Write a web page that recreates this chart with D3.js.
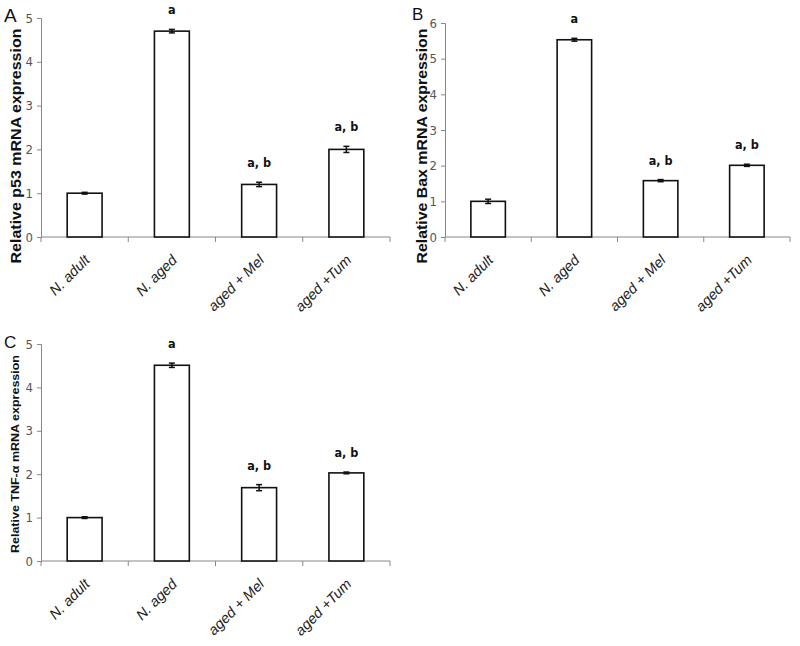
<!DOCTYPE html>
<html>
<head>
<meta charset="utf-8">
<script src="https://cdn.jsdelivr.net/npm/d3@7"></script>
<style>
  body { margin: 0; background: #fff; }
  svg { display: block; }
  .tick-lbl { font-family: "Liberation Sans Narrow", "Arial Narrow", "DejaVu Sans Condensed", sans-serif; font-size: 13px; fill: #555; }
  .cat-lbl { font-family: "Liberation Sans", Arial, sans-serif; font-style: italic; font-size: 14.5px; fill: #222; }
  .sig { font-family: "DejaVu Sans Condensed", "Liberation Sans Narrow", sans-serif; font-weight: bold; font-size: 12.5px; fill: #111; }
  .ylab { font-family: "Liberation Sans", Arial, sans-serif; font-weight: bold; fill: #111; }
  .panel { font-family: "Liberation Sans", Arial, sans-serif; fill: #111; }
</style>
</head>
<body>
<svg id="chart" width="800" height="646"></svg>
<script>
// groups on the x axis
const categories = ["N. adult", "N. aged", "aged + Mel", "aged +Tum"]
const sigLabels = ["", "a", "a, b", "a, b"]

// panel A: p53
const p53Values = [1.0, 4.70, 1.20, 2.0]
const p53Errors = [0.02, 0.04, 0.05, 0.07]
const p53Ticks = [0, 1, 2, 3, 4, 5]

// panel B: Bax
const baxValues = [1.0, 5.53, 1.58, 2.01]
const baxErrors = [0.06, 0.04, 0.03, 0.03]
const baxTicks = [0, 1, 2, 3, 4, 5, 6]

// panel C: TNF-a
const tnfValues = [1.0, 4.51, 1.69, 2.03]
const tnfErrors = [0.02, 0.05, 0.07, 0.02]
const tnfTicks = [0, 1, 2, 3, 4, 5]

const svg = d3.select("#chart")

const panels = [
  { letter: "A", lx: 4, ly: 22, lsize: 19, values: p53Values, errors: p53Errors, ticks: p53Ticks,
    x0: 41, x1: 390, yTop: 18, yBot: 237,
    ylabel: "Relative p53 mRNA  expression", yx: 16, yy: 146, ysize: 14.5, ylen: 235 },
  { letter: "B", lx: 412, ly: 20, lsize: 17, values: baxValues, errors: baxErrors, ticks: baxTicks,
    x0: 445, x1: 790, yTop: 23, yBot: 237,
    ylabel: "Relative Bax mRNA expression", yx: 422, yy: 146, ysize: 14.5, ylen: 235 },
  { letter: "C", lx: 4, ly: 348, lsize: 17, values: tnfValues, errors: tnfErrors, ticks: tnfTicks,
    x0: 41, x1: 390, yTop: 344, yBot: 561,
    ylabel: "Relative TNF-\u03b1 mRNA  expression", yx: 15, yy: 454, ysize: 11.5, ylen: 198 }
]

const drawPanel = p => {
  const g = svg.append("g")
  const yMax = d3.max(p.ticks)

  const x = d3.scaleBand().domain(categories).range([p.x0, p.x1]).padding(0)
  const y = d3.scaleLinear().domain([0, yMax]).range([p.yBot, p.yTop])
  const barW = x.bandwidth() * 0.4

  // y axis
  const yAxis = g.append("g")
    .attr("transform", `translate(${p.x0},0)`)
    .call(d3.axisLeft(y).tickValues(p.ticks).tickSize(4).tickPadding(4).tickFormat(d3.format("d")))
  yAxis.select(".domain").attr("stroke", "#888")
  yAxis.selectAll(".tick line").attr("stroke", "#888")
  yAxis.selectAll(".tick text").attr("class", "tick-lbl").attr("font-family", null).attr("font-size", null).attr("fill", null)

  // x axis: ticks sit on band edges
  const edges = categories.map(c => x(c)).concat([p.x1])
  g.append("line")
    .attr("x1", p.x0).attr("x2", p.x1)
    .attr("y1", p.yBot).attr("y2", p.yBot)
    .attr("stroke", "#888")
  g.selectAll(".xtick").data(edges).enter().append("line")
    .attr("class", "xtick")
    .attr("x1", d => d).attr("x2", d => d)
    .attr("y1", p.yBot).attr("y2", p.yBot + 5)
    .attr("stroke", "#888")

  // bars
  g.selectAll(".bar").data(p.values).enter().append("rect")
    .attr("class", "bar")
    .attr("x", (d, i) => x(categories[i]) + x.bandwidth() / 2 - barW / 2)
    .attr("y", d => y(d))
    .attr("width", barW)
    .attr("height", d => p.yBot - y(d))
    .attr("fill", "#fff")
    .attr("stroke", "#111")
    .attr("stroke-width", 1.6)

  // error bars
  const cx = i => x(categories[i]) + x.bandwidth() / 2
  const eb = g.selectAll(".err").data(p.values).enter().append("g").attr("class", "err")
  eb.append("line")
    .attr("x1", (d, i) => cx(i)).attr("x2", (d, i) => cx(i))
    .attr("y1", (d, i) => y(d - p.errors[i])).attr("y2", (d, i) => y(d + p.errors[i]))
    .attr("stroke", "#111").attr("stroke-width", 1.5)
  eb.append("line")
    .attr("x1", (d, i) => cx(i) - 3).attr("x2", (d, i) => cx(i) + 3)
    .attr("y1", (d, i) => y(d - p.errors[i])).attr("y2", (d, i) => y(d - p.errors[i]))
    .attr("stroke", "#111").attr("stroke-width", 1.5)
  eb.append("line")
    .attr("x1", (d, i) => cx(i) - 3).attr("x2", (d, i) => cx(i) + 3)
    .attr("y1", (d, i) => y(d + p.errors[i])).attr("y2", (d, i) => y(d + p.errors[i]))
    .attr("stroke", "#111").attr("stroke-width", 1.5)

  // significance letters
  g.selectAll(".sig").data(p.values).enter().append("text")
    .attr("class", "sig")
    .attr("x", (d, i) => cx(i))
    .attr("y", (d, i) => y(d + p.errors[i]) - 15)
    .attr("text-anchor", "middle")
    .text((d, i) => sigLabels[i])

  // category labels, rotated
  g.selectAll(".cat-lbl").data(categories).enter().append("text")
    .attr("class", "cat-lbl")
    .attr("text-anchor", "end")
    .attr("transform", d => `translate(${x(d) + x.bandwidth() / 2 + 6},${p.yBot + 24}) rotate(-45)`)
    .text(d => d)

  // y label
  g.append("text")
    .attr("class", "ylab")
    .attr("font-size", p.ysize)
    .attr("text-anchor", "middle")
    .attr("transform", `translate(${p.yx},${p.yy}) rotate(-90)`)
    .attr("dy", "0.35em")
    .attr("textLength", p.ylen)
    .attr("lengthAdjust", "spacingAndGlyphs")
    .text(p.ylabel)

  // panel letter
  g.append("text")
    .attr("class", "panel")
    .attr("x", p.lx).attr("y", p.ly)
    .attr("font-size", p.lsize)
    .text(p.letter)
}

panels.forEach(drawPanel)
</script>
</body>
</html>
